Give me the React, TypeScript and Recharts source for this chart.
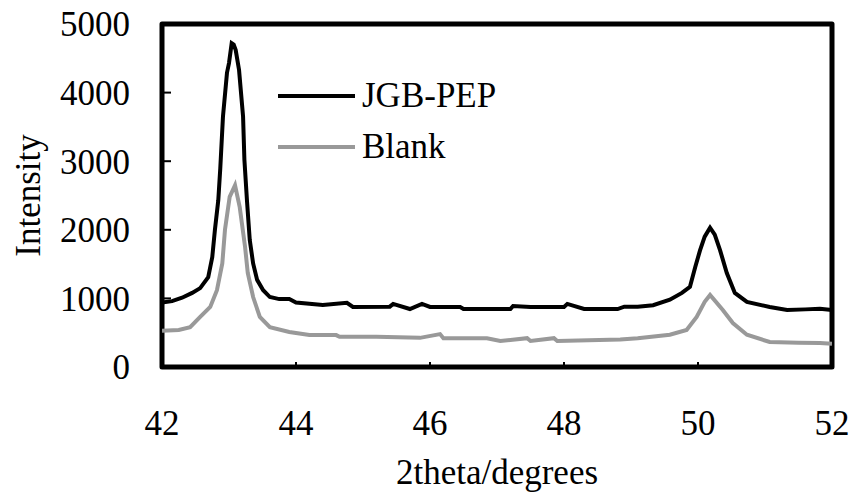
import {
  Legend,
  Line,
  LineChart,
  ReferenceArea,
  XAxis,
  YAxis,
} from "recharts";

// peak positions (2theta, intensity)
const jgbTheta = [
  42.0, 42.15, 42.3, 42.45, 42.57, 42.69, 42.75, 42.79, 42.84, 42.87, 42.91,
  42.97, 43.0, 43.04, 43.07, 43.1, 43.15, 43.21, 43.23, 43.27, 43.31, 43.36,
  43.42, 43.51, 43.61, 43.75, 43.9, 44.0, 44.4, 44.76, 44.85, 45.4, 45.45,
  45.7, 45.88, 46.0, 46.45, 46.5, 47.2, 47.24, 47.5, 48.0, 48.05, 48.3, 48.8,
  48.9, 49.1, 49.33, 49.58, 49.76, 49.88, 49.96, 50.03, 50.1, 50.18, 50.25,
  50.33, 50.43, 50.55, 50.73, 51.07, 51.33, 51.6, 51.82, 52.0,
];
const jgbIntensity = [
  940, 960, 1010, 1080, 1150, 1310, 1600, 2000, 2430, 2900, 3650,
  4290, 4430, 4720, 4700, 4620, 4330, 3650, 3020, 2400, 1850, 1510,
  1270, 1120, 1020, 990, 990, 940, 905, 935, 875, 880, 920,
  845, 920, 875, 875, 845, 845, 890, 875, 875, 920, 845, 845,
  880, 880, 900, 980, 1080, 1170, 1460, 1700, 1900, 2030, 1930,
  1700, 1370, 1080, 950, 875, 830, 840, 850, 830,
];

const blankTheta = [
  42.0, 42.25, 42.42, 42.57, 42.72, 42.82, 42.9, 42.94, 43.01, 43.09, 43.16,
  43.24, 43.28, 43.36, 43.46, 43.61, 43.9, 44.2, 44.6, 44.65, 45.2, 45.85,
  46.15, 46.2, 46.85, 47.05, 47.45, 47.5, 47.85, 47.9, 48.84, 49.1, 49.58,
  49.83, 49.98, 50.1, 50.18, 50.37, 50.52, 50.73, 51.07, 51.5, 51.82, 52.0,
];
const blankIntensity = [
  530, 540, 580, 730, 875, 1120, 1510, 2000, 2480, 2650, 2330,
  1750, 1370, 1020, 730, 580, 510, 465, 465, 440, 440, 425,
  480, 420, 420, 380, 420, 380, 420, 380, 400, 420, 470,
  540, 730, 950, 1050, 830, 640, 470, 365, 355, 350, 340,
];

const seriesNames = ["JGB-PEP", "Blank"];
const xTicks = [42, 44, 46, 48, 50, 52];
const yTicks = [0, 1000, 2000, 3000, 4000, 5000];

const jgbPoints = jgbTheta.map((x, i) => ({ x, y: jgbIntensity[i] }));
const blankPoints = blankTheta.map((x, i) => ({ x, y: blankIntensity[i] }));

const font = '"Liberation Serif", "Times New Roman", serif';

function IntensityTitle({ viewBox }: any) {
  const cx = viewBox.x + 28;
  const cy = viewBox.y + viewBox.height / 2;
  return (
    <text
      x={cx}
      y={cy}
      transform={`rotate(-90 ${cx} ${cy})`}
      textAnchor="middle"
      dominantBaseline="central"
      fontSize={35}
      fontFamily={font}
      fill="#000"
    >
      Intensity
    </text>
  );
}

function SeriesKey({ payload }: any) {
  const items = [...(payload || [])].sort(
    (a: any, b: any) => seriesNames.indexOf(a.value) - seriesNames.indexOf(b.value)
  );
  return (
    <div style={{ fontFamily: font, fontSize: 35, color: "#000" }}>
      {items.map((entry: any) => (
        <div
          key={entry.value}
          style={{ display: "flex", alignItems: "center", height: 51 }}
        >
          <svg width={84} height={8}>
            <line
              x1={0}
              x2={77}
              y1={4}
              y2={4}
              stroke={entry.color}
              strokeWidth={4}
            />
          </svg>
          <span>{entry.value}</span>
        </div>
      ))}
    </div>
  );
}

export default function App() {
  return (
    <div style={{ position: "absolute", left: 0, top: 0 }}>
      <LineChart
        width={852}
        height={492}
        margin={{ top: 24, right: 20, left: 0, bottom: 0 }}
        style={{ fontFamily: font }}
      >
        <XAxis
          type="number"
          dataKey="x"
          domain={[42, 52]}
          ticks={xTicks}
          allowDataOverflow
          height={125}
          axisLine={false}
          tickSize={-5}
          tickMargin={48}
          tickLine={{ stroke: "#000", strokeWidth: 2 }}
          tick={{ fontSize: 35, fill: "#000", fontFamily: font }}
          label={{
            value: "2theta/degrees",
            position: "insideBottom",
            offset: 8,
            fontSize: 35,
            fill: "#000",
            fontFamily: font,
          }}
        />
        <YAxis
          type="number"
          domain={[0, 5000]}
          ticks={yTicks}
          width={162}
          axisLine={false}
          tickSize={-9}
          tickMargin={41}
          tickLine={{ stroke: "#000", strokeWidth: 2 }}
          tick={{ fontSize: 35, fill: "#000", fontFamily: font }}
          label={<IntensityTitle />}
        />
        <ReferenceArea
          x1={42}
          x2={52}
          y1={0}
          y2={5000}
          fill="none"
          stroke="#000"
          strokeWidth={5}
          strokeLinejoin="round"
        />
        <Line
          data={jgbPoints}
          dataKey="y"
          name={seriesNames[0]}
          type="linear"
          stroke="#000"
          strokeWidth={4}
          dot={false}
          isAnimationActive={false}
        />
        <Line
          data={blankPoints}
          dataKey="y"
          name={seriesNames[1]}
          type="linear"
          stroke="#999"
          strokeWidth={4}
          dot={false}
          isAnimationActive={false}
        />
        <Legend
          layout="vertical"
          align="center"
          verticalAlign="middle"
          content={<SeriesKey />}
          wrapperStyle={{ left: 278, top: 70, width: 260 }}
        />
      </LineChart>
    </div>
  );
}
